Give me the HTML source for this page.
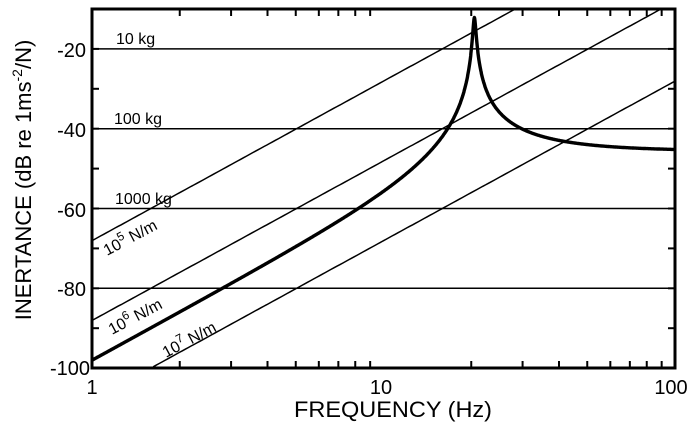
<!DOCTYPE html>
<html><head><meta charset="utf-8"><style>
html,body{margin:0;padding:0;background:#fff;width:697px;height:422px;overflow:hidden}
svg{display:block}
text{font-family:"Liberation Sans",sans-serif;fill:#000}
</style></head><body>
<svg id="s" width="697" height="422" viewBox="0 0 697 422" xmlns="http://www.w3.org/2000/svg">
<g id="g"></g>
<rect x="92" y="9" width="583" height="359" fill="none" stroke="#000" stroke-width="3"/>
<text font-size="22" transform="rotate(-90 24 180)" x="24" y="187" text-anchor="middle"><tspan>INERTANCE  (dB  re 1ms</tspan><tspan font-size="14" dy="-9">-2</tspan><tspan dy="9">/N)</tspan></text>
<g font-size="20" text-anchor="end">
<text x="86" y="57">-20</text><text x="86" y="137">-40</text><text x="86" y="217">-60</text><text x="86" y="296">-80</text><text x="90" y="375">-100</text>
</g>
<g font-size="20" text-anchor="middle">
<text x="92" y="394">1</text><text x="381" y="394">10</text><text x="671" y="394">100</text>
</g>
<text x="393" y="417" font-size="22" text-anchor="middle" textLength="198" lengthAdjust="spacingAndGlyphs">FREQUENCY (Hz)</text>
<g font-size="16">
<text x="116" y="44">10 kg</text>
<text x="114" y="124">100 kg</text>
<text x="115" y="204">1000 kg</text>
<text x="107" y="256" transform="rotate(-28 107 256)">10<tspan font-size="12" dy="-7">5</tspan><tspan dy="7"> N/m</tspan></text>
<text x="112" y="335" transform="rotate(-28 112 335)">10<tspan font-size="12" dy="-7">6</tspan><tspan dy="7"> N/m</tspan></text>
<text x="166" y="358" transform="rotate(-28 166 358)">10<tspan font-size="12" dy="-7">7</tspan><tspan dy="7"> N/m</tspan></text>
</g>
</svg>
<script>
var X=function(f){return 92+Math.log10(f)*291.5};
var Y=function(d){return 9+(-10-d)*3.99};
var g=document.getElementById('g'),h='';
function L(x1,y1,x2,y2,w){h+='<line x1="'+x1+'" y1="'+y1+'" x2="'+x2+'" y2="'+y2+'" stroke="#000" stroke-width="'+w+'"/>';}
[-20,-40,-60,-80].forEach(function(d){L(92,Y(d),675,Y(d),1.5)});
for(var d=-90;d<=-20;d+=10){L(92,Y(d),99,Y(d),2);L(668,Y(d),675,Y(d),2);}
[2,3,4,5,6,7,8,9,20,30,40,50,60,70,80,90].forEach(function(f){L(X(f),9,X(f),16,2);L(X(f),361,X(f),368,2);});
[5,6,7].forEach(function(e){
 var pts=[];for(var i=0;i<=200;i++){var lf=i/100;var db=20*(2*Math.log10(2*Math.PI)+2*lf)-20*e;
 if(db<=-10&&db>=-100)pts.push(X(Math.pow(10,lf)).toFixed(1)+','+Y(db).toFixed(1));}
 h+='<polyline points="'+pts.join(' ')+'" fill="none" stroke="#000" stroke-width="1.5"/>';
});
var m=190,k=m*Math.pow(2*Math.PI*20.5,2),cc=520,pts=[];
for(var i=0;i<=2000;i++){var lf=i/1000,f=Math.pow(10,lf),w=2*Math.PI*f;
 var re=k-m*w*w,im=cc*w;var a=w*w/Math.sqrt(re*re+im*im);var db=20*Math.log10(a);
 pts.push(X(f).toFixed(1)+','+Y(Math.min(db,-11.5)).toFixed(1));}
h+='<polyline points="'+pts.join(' ')+'" fill="none" stroke="#000" stroke-width="3.4" stroke-linejoin="round"/>';
g.innerHTML=h;
</script>
</body></html>
